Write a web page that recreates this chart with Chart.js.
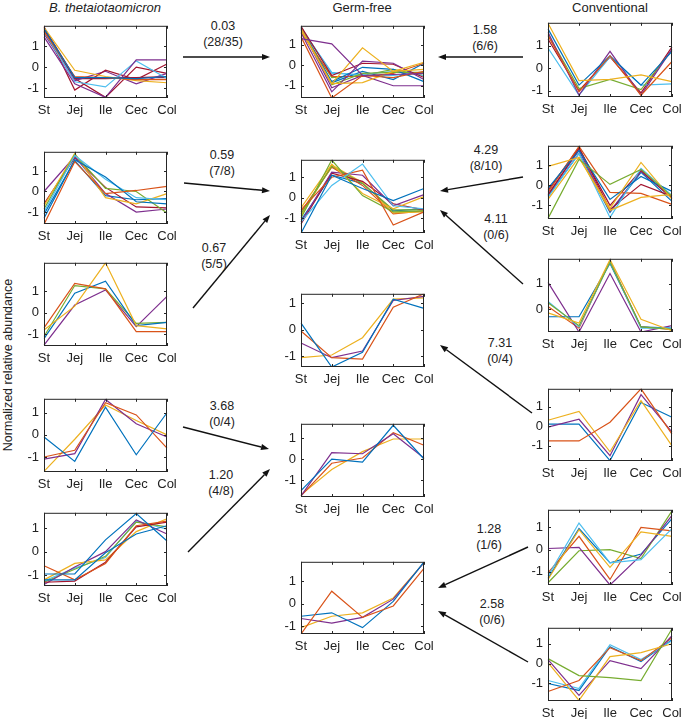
<!DOCTYPE html>
<html>
<head>
<meta charset="utf-8">
<script src="https://cdn.jsdelivr.net/npm/chart.js@4.4.0/dist/chart.umd.min.js"></script>
<style>
  body { margin: 0; background: #fff; width: 685px; height: 719px; position: relative; overflow: hidden;
         font-family: "Liberation Sans", Arial, sans-serif; color: #222; }
  canvas.panel { position: absolute; }
  .lbl { position: absolute; font-size: 12.5px; text-align: center; line-height: 16px; transform: translateX(-50%); white-space: nowrap; }
  .title { position: absolute; font-size: 13px; transform: translateX(-50%); white-space: nowrap; }
  #ylab { position: absolute; left: 8px; top: 365px; font-size: 12.5px; white-space: nowrap;
          transform: translate(-50%, -50%) rotate(-90deg); }
  svg { position: absolute; left: 0; top: 0; }
</style>
</head>
<body>
<div class="title" style="left:105px;top:0px;font-style:italic">B. thetaiotaomicron</div>
<div class="title" style="left:362px;top:0px">Germ-free</div>
<div class="title" style="left:610px;top:0px">Conventional</div>
<div id="ylab">Normalized relative abundance</div>
<svg id="arrows" width="685" height="719"></svg>
<script>
const sites = ['St', 'Jej', 'Ile', 'Cec', 'Col'];
const yTicks = [-1, 0, 1];

// B. thetaiotaomicron clusters (left column)
const bt1 = [
  [1.85, -0.5, -0.5, -0.55, -0.45],
  [1.7, -0.45, -0.5, -0.6, -0.6],
  [1.9, -0.15, -0.45, -0.65, -0.75],
  [1.45, -0.8, -1.45, 0.35, 0.35],
  [1.7, -0.7, -0.95, 0.3, -0.55],
  [1.95, -1.1, -0.15, -0.6, 0.15],
  [1.6, -0.65, -0.2, -0.8, -0.3],
  [1.8, -0.55, -1.45, 0.0, -0.3],
  [1.9, -0.5, -0.5, -0.5, -0.5],
  [1.75, -0.55, -0.55, -0.5, -0.45]
];
const bt2 = [
  [-1.6, 1.45, -0.1, 0.05, 0.25],
  [-1.3, 1.55, 0.7, -0.5, -0.6],
  [-1.0, 1.75, 0.6, -0.3, -0.4],
  [-0.85, 1.8, 0.15, 0.0, -1.05],
  [-0.7, 1.85, -0.3, -0.6, -0.1],
  [0.0, 1.7, -0.1, -1.0, -0.85],
  [-0.6, 1.65, 0.2, -0.75, -0.8],
  [-1.1, 1.5, -0.2, -0.4, -0.35]
];
const bt3 = [
  [-0.7, 1.35, 1.1, -0.88, -0.88],
  [-0.8, 0.3, 2.3, -0.6, -0.75],
  [-1.2, 0.9, 1.45, -0.6, -0.45],
  [-1.1, 1.25, 1.1, -0.5, -0.45],
  [-1.5, 0.35, 1.05, -0.65, 0.75]
];
const bt4 = [
  [-0.1, -1.2, 1.25, -0.9, 1.0],
  [-1.0, -0.7, 1.45, 0.9, -0.6],
  [-1.1, -0.85, 1.6, 0.5, -0.1],
  [-1.65, -0.2, 1.35, 0.65, 0.0]
];
const bt5 = [
  [-0.95, -0.95, 0.5, 1.62, 0.45],
  [-1.2, -1.2, -0.05, 0.75, 1.1],
  [-0.6, -1.2, -0.5, 1.1, 1.3],
  [-1.3, -1.25, -0.45, 1.05, 1.25],
  [-1.2, -0.5, -0.35, 0.85, 1.4],
  [-1.4, -0.65, 0.0, 1.35, 0.75],
  [-1.3, -0.75, -0.2, 1.25, 1.05],
  [-1.25, -0.7, -0.25, 1.3, 0.95]
];

// Germ-free clusters (middle column)
const gf1 = [
  [1.3, 1.05, -0.5, -0.45, -0.4],
  [1.4, -1.6, -0.5, -0.6, -0.3],
  [1.8, -0.9, 0.85, -0.3, -0.2],
  [1.7, -0.9, -0.85, -0.3, 0.15],
  [1.6, -1.3, 0.2, 0.1, -0.7],
  [1.8, -1.1, -0.5, -1.0, -1.0],
  [1.9, -0.5, 0.1, 0.05, -0.6],
  [1.75, -0.8, -0.1, -0.2, -0.8],
  [1.85, -0.95, -0.4, -0.35, -0.35],
  [1.85, -0.4, -0.45, -0.3, -0.5],
  [1.6, -0.55, -0.55, -0.4, 0.1],
  [1.9, -0.85, -0.3, -0.7, 0.1],
  [1.7, -0.6, -0.5, -0.2, -0.5],
  [1.8, -0.35, -0.5, -0.5, -0.35]
];
const gf2 = [
  [-1.75, 1.1, 0.45, -0.15, 0.45],
  [-1.2, 0.6, 1.65, -0.4, -0.55],
  [-0.6, 1.0, 1.35, -1.35, -0.7],
  [-1.0, 1.85, 0.1, -0.7, -0.65],
  [-0.5, 1.65, 0.2, -0.55, 0.05],
  [-1.2, 1.25, 1.1, -0.4, 0.15],
  [-1.3, 1.2, 0.8, -0.3, -0.6],
  [-0.8, 1.55, 0.7, -0.6, -0.6],
  [-0.9, 1.6, 0.75, -0.75, -0.7],
  [-0.7, 1.5, 0.6, -0.8, -0.65],
  [-1.1, 1.1, 0.7, -0.65, -0.55]
];
const gf3 = [
  [0.25, -1.4, -0.85, 1.15, 0.8],
  [-0.05, -1.05, -1.1, 0.85, 1.35],
  [-0.5, -1.05, -0.8, 1.1, 1.25],
  [-1.05, -0.95, -0.3, 1.15, 1.2]
];
const gf4 = [
  [-1.5, 0.0, -0.15, 1.6, 0.0],
  [-1.75, 0.3, 0.25, 1.2, 0.05],
  [-1.75, -0.2, 0.05, 1.25, 0.65],
  [-1.7, -0.5, 0.35, 0.95, 0.95]
];
const gf5 = [
  [-1.33, 0.55, -0.6, -0.1, 1.55],
  [-0.55, -0.4, -1.05, 0.1, 1.84],
  [-0.65, -0.85, -0.6, 0.2, 1.8],
  [-1.05, -0.55, -0.4, 0.25, 1.8]
];

// Conventional clusters (right column)
const cv1 = [
  [2.0, -0.55, -0.5, -0.3, -0.6],
  [1.45, -1.05, 0.55, -1.2, 0.3],
  [1.75, -0.75, 0.55, -0.75, 0.75],
  [1.6, -1.2, 0.75, -1.2, 0.85],
  [1.5, -0.9, -0.5, -0.95, 0.8],
  [0.9, -1.2, 0.5, -0.75, -0.7],
  [1.3, -1.0, 0.5, -1.1, 0.95]
];
const cv2 = [
  [-1.65, 1.3, 0.05, 0.8, -0.55],
  [0.95, 1.4, -1.15, 1.15, -0.7],
  [-0.7, 1.4, -1.25, -0.6, -0.45],
  [-0.15, 1.75, -0.7, 0.45, -0.3],
  [-0.6, 1.6, -1.6, 0.85, -0.5],
  [-0.35, 1.95, -0.35, -0.4, -0.95],
  [-0.5, 1.85, -1.0, 0.75, -0.65],
  [-0.25, 1.9, -1.2, 0.05, -0.55],
  [-0.45, 1.75, -1.3, 0.7, -0.65],
  [-0.55, 1.6, -1.35, 0.65, -0.8]
];
const cv3 = [
  [-0.15, -0.55, 1.95, -0.4, -0.85],
  [0.25, -0.65, 1.85, -0.7, -0.8],
  [0.3, -0.7, 1.85, -0.75, -0.75],
  [-0.3, -0.3, 1.8, -0.7, -0.75],
  [1.05, -0.9, 1.4, -0.9, -0.65],
  [0.1, -0.75, 1.9, -0.7, -0.8]
];
const cv4 = [
  [-0.75, -0.75, 0.2, 1.9, -0.4],
  [0.3, 0.75, -1.3, 1.3, -1.0],
  [-0.05, 0.35, -1.5, 1.6, -0.3],
  [0.1, 0.1, -1.75, 1.2, 0.45]
];
const cv5 = [
  [-1.2, 1.2, -0.6, -0.45, 0.95],
  [-1.35, 0.9, -0.8, 0.8, 0.6],
  [-1.05, 0.6, -1.35, 1.0, 0.85],
  [0.05, 0.1, -1.6, -0.25, 1.55],
  [-1.5, -0.05, 0.0, -0.4, 1.75],
  [-1.3, 0.95, -0.6, -0.2, 1.4]
];
const cv6 = [
  [0.25, -0.6, -0.7, -0.85, 1.75],
  [0.05, -1.85, 0.35, 0.55, 1.0],
  [0.2, -1.6, 0.15, -0.25, 1.4],
  [-1.4, -0.85, 0.8, 0.15, 1.3],
  [-0.85, -1.25, 0.95, 0.2, 1.15],
  [-1.0, -1.35, 0.85, 0.1, 1.2]
];

// arrow annotations: statistic and (count)
const arrowStats = ['0.03', '1.58', '0.59', '0.67', '4.29', '4.11', '7.31', '3.68', '1.20', '1.28', '2.58'];
const arrowCounts = ['(28/35)', '(6/6)', '(7/8)', '(5/5)', '(8/10)', '(0/6)', '(0/4)', '(0/4)', '(4/8)', '(1/6)', '(0/6)'];

const M = { b: '#0072BD', o: '#D95319', y: '#EDB120', p: '#7E2F8E', g: '#77AC30', c: '#4DBEEE', r: '#A2142F' };
const FONT = '"Liberation Sans", Arial, sans-serif';

const panels = [
  { data: bt1, cols: 'boypcrprrr', box: [44, 19, 123, 79], lim: [-1.48, 1.98] },
  { data: bt2, cols: 'obcgyprb', box: [44, 145, 123, 79], lim: [-1.58, 1.93] },
  { data: bt3, cols: 'oybgp', box: [44, 256, 123, 90], lim: [-1.54, 2.3] },
  { data: bt4, cols: 'bopy', box: [44, 392, 123, 80], lim: [-1.68, 1.63] },
  { data: bt5, cols: 'bborypgc', box: [44, 506, 123, 80], lim: [-1.46, 1.65] },
  { data: gf1, cols: 'poyypprbgcobgc', box: [301, 19, 123, 79], lim: [-1.6, 1.93] },
  { data: gf2, cols: 'bcogyprgyob', box: [301, 153, 123, 80], lim: [-1.74, 1.86] },
  { data: gf3, cols: 'bopy', box: [301, 287, 123, 80], lim: [-1.4, 1.35] },
  { data: gf4, cols: 'bpoy', box: [301, 417, 123, 80], lim: [-1.8, 1.67] },
  { data: gf5, cols: 'obpy', box: [301, 555, 123, 79], lim: [-1.33, 1.84] },
  { data: cv1, cols: 'yobpgcr', box: [548, 16, 124, 81], lim: [-1.28, 2.02] },
  { data: cv2, cols: 'gyybcorrpb', box: [548, 139, 124, 80], lim: [-1.68, 1.98] },
  { data: cv3, cols: 'ygcbpo', box: [548, 252, 124, 80], lim: [-0.9, 1.98] },
  { data: cv4, cols: 'oypb', box: [548, 382, 124, 79], lim: [-1.77, 1.9] },
  { data: cv5, cols: 'cyopgb', box: [548, 503, 124, 82], lim: [-1.6, 1.8] },
  { data: cv6, cols: 'gypocb', box: [548, 621, 124, 80], lim: [-1.88, 1.8] }
];

const AXW = 34, AXH = 24, PT = 6, PR = 14;

const boxTicks = {
  id: 'boxTicks',
  afterDraw(chart) {
    const { ctx, chartArea: a, scales } = chart;
    ctx.save();
    ctx.strokeStyle = '#262626';
    ctx.lineWidth = 1;
    ctx.strokeRect(a.left + 0.5, a.top + 0.5, a.right - a.left - 1, a.bottom - a.top - 1);
    ctx.beginPath();
    scales.y.ticks.forEach(t => {
      const y = Math.round(scales.y.getPixelForValue(t.value)) + 0.5;
      ctx.moveTo(a.left, y); ctx.lineTo(a.left + 3, y);
      ctx.moveTo(a.right, y); ctx.lineTo(a.right - 3, y);
    });
    sites.forEach((s, i) => {
      const x = Math.round(scales.x.getPixelForValue(i)) + 0.5;
      ctx.moveTo(x, a.bottom); ctx.lineTo(x, a.bottom - 3);
      ctx.moveTo(x, a.top); ctx.lineTo(x, a.top + 3);
    });
    ctx.stroke();
    ctx.restore();
  }
};

panels.forEach(p => {
  const [bx, by, bw, bh] = p.box;
  const cv = document.createElement('canvas');
  cv.className = 'panel';
  cv.width = AXW + bw + PR;
  cv.height = PT + bh + AXH;
  cv.style.left = (bx - AXW) + 'px';
  cv.style.top = (by - PT) + 'px';
  document.body.appendChild(cv);
  new Chart(cv, {
    type: 'line',
    data: {
      labels: sites,
      datasets: p.data.map((vals, i) => ({
        data: vals,
        borderColor: M[p.cols[i]],
        borderWidth: 1.2,
        pointRadius: 0,
        tension: 0,
        fill: false
      }))
    },
    options: {
      responsive: false,
      animation: false,
      events: [],
      layout: { padding: { top: PT, right: PR, left: 0, bottom: 0 } },
      plugins: { legend: { display: false }, tooltip: { enabled: false } },
      scales: {
        x: {
          offset: false,
          grid: { display: false, drawTicks: false },
          border: { display: false },
          ticks: { color: '#222', font: { family: FONT, size: 13 }, padding: 5, maxRotation: 0, autoSkip: false },
          afterFit(s) { s.height = AXH; s.paddingLeft = 0; s.paddingRight = 0; }
        },
        y: {
          min: p.lim[0],
          max: p.lim[1],
          grid: { display: false, drawTicks: false },
          border: { display: false },
          ticks: { color: '#222', font: { family: FONT, size: 13 }, padding: 5 },
          afterBuildTicks(s) {
            s.ticks = yTicks.filter(v => v >= s.min && v <= s.max).map(v => ({ value: v }));
          },
          afterFit(s) { s.width = AXW; }
        }
      }
    },
    plugins: [boxTicks]
  });
});

// arrows: tail x,y -> head x,y, then label centre
const arrowGeom = [
  [183, 57, 270, 57, 223, 26],
  [523, 57, 438, 57, 485, 30],
  [184, 183, 270, 191, 222, 155],
  [193, 308, 270, 215, 214, 248],
  [523, 177, 440, 191, 486, 150],
  [523, 284, 440, 210, 496, 219],
  [532, 413, 440, 345, 500, 343],
  [183, 427, 269, 449, 222, 406],
  [188, 552, 270, 469, 221, 475],
  [528, 547, 438, 588, 489, 529],
  [528, 662, 438, 611, 492, 604]
];
const svg = document.getElementById('arrows');
const NS = 'http://www.w3.org/2000/svg';
arrowGeom.forEach((g, i) => {
  const [x1, y1, x2, y2, lx, ly] = g;
  const ang = Math.atan2(y2 - y1, x2 - x1);
  const hl = 8, hw = 3;
  const bx = x2 - hl * Math.cos(ang), byy = y2 - hl * Math.sin(ang);
  const line = document.createElementNS(NS, 'line');
  line.setAttribute('x1', x1); line.setAttribute('y1', y1);
  line.setAttribute('x2', bx); line.setAttribute('y2', byy);
  line.setAttribute('stroke', '#111'); line.setAttribute('stroke-width', '1.4');
  svg.appendChild(line);
  const head = document.createElementNS(NS, 'polygon');
  const px = -Math.sin(ang) * hw, py = Math.cos(ang) * hw;
  head.setAttribute('points', `${x2},${y2} ${bx + px},${byy + py} ${bx - px},${byy - py}`);
  head.setAttribute('fill', '#111');
  svg.appendChild(head);
  const d = document.createElement('div');
  d.className = 'lbl';
  d.style.left = lx + 'px';
  d.style.top = (ly - 8) + 'px';
  d.innerHTML = arrowStats[i] + '<br>' + arrowCounts[i];
  document.body.appendChild(d);
});
</script>
</body>
</html>
